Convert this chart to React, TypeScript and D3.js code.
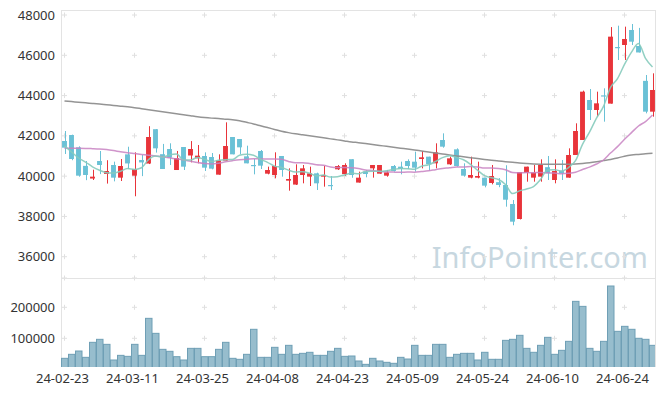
import React from 'react';
import * as d3 from 'd3';

const dates = [
  '24-02-23','24-02-26','24-02-27','24-02-28','24-02-29','24-03-04','24-03-05','24-03-06','24-03-07','24-03-08',
  '24-03-11','24-03-12','24-03-13','24-03-14','24-03-15','24-03-18','24-03-19','24-03-20','24-03-21','24-03-22',
  '24-03-25','24-03-26','24-03-27','24-03-28','24-03-29','24-04-01','24-04-02','24-04-03','24-04-04','24-04-05',
  '24-04-08','24-04-09','24-04-11','24-04-12','24-04-15','24-04-16','24-04-17','24-04-18','24-04-19','24-04-22',
  '24-04-23','24-04-24','24-04-25','24-04-26','24-04-29','24-04-30','24-05-02','24-05-03','24-05-07','24-05-08',
  '24-05-09','24-05-10','24-05-13','24-05-14','24-05-16','24-05-17','24-05-20','24-05-21','24-05-22','24-05-23',
  '24-05-24','24-05-27','24-05-28','24-05-29','24-05-30','24-05-31','24-06-03','24-06-04','24-06-05','24-06-07',
  '24-06-10','24-06-11','24-06-12','24-06-13','24-06-14','24-06-17','24-06-18','24-06-19','24-06-20','24-06-21',
  '24-06-24','24-06-25','24-06-26','24-06-27','24-06-28'
];

const opens = [
  41744,42042,41430,40510,39880,40751,40110,40553,39924,41082,
  40023,40801,40625,42330,41090,41347,40304,41446,41025,40884,
  40999,40950,40073,40768,41943,41843,40983,40553,41248,40122,
  40056,41000,39775,39580,40056,39974,40139,39974,39560,40338,
  40100,40840,39680,40222,40387,40122,40023,40503,40470,40751,
  40718,40851,40967,40636,41794,40586,41331,40354,39924,39924,
  39924,39660,39700,39560,38616,37872,40172,39924,39974,40445,
  39808,40271,39924,41049,41794,43780,43284,44010,43600,46410,
  46511,47256,46461,44730,43201
];
const highs = [
  42240,42060,41480,40750,40320,41248,40790,40718,40850,41460,
  41181,41049,42480,42340,41600,41630,41250,41446,41740,41545,
  41181,41148,41082,42671,41943,41843,41512,40850,41297,40470,
  41182,41000,40387,40586,40553,40470,40172,40503,40007,40553,
  40636,40840,40222,40304,40553,40553,40304,40553,40718,40834,
  41215,41248,40967,41629,42125,40967,41380,40636,40967,40718,
  39924,40553,39900,40540,38815,40205,40470,40553,40834,41000,
  40834,40801,41380,42622,44244,44326,44194,44360,47400,47470,
  47421,47553,47360,45021,45104
];
const lows = [
  41100,40790,39973,39800,39808,40100,39630,39740,39758,40354,
  39000,40000,40600,41170,40354,40553,40304,40304,40685,40635,
  40255,40337,40073,40768,41082,41082,40635,40089,40354,40089,
  39891,39974,39278,39560,39643,39510,39312,39477,39311,40305,
  40007,39920,39680,39940,39924,40122,39973,40222,40089,40354,
  40222,40387,40271,40387,41413,40553,40470,39974,39891,39891,
  39444,39593,39450,38484,37560,37850,39725,39725,39725,39808,
  39643,39808,39924,41049,41794,42787,42952,42704,43600,45766,
  45766,46511,46140,43118,42952
];
const closes = [
  41413,40851,40023,40057,39974,40553,40255,39924,40503,40630,
  40354,40680,41943,41380,40354,40917,40900,40470,41347,41016,
  40420,40371,40784,41496,41082,41430,40635,40530,40520,40304,
  40503,40305,39858,40056,40387,40139,39643,40056,39530,40503,
  40553,40056,39924,40106,40553,40553,40188,40255,40354,40503,
  40420,40934,40602,41182,41463,40884,40503,40023,40056,40007,
  39527,40007,39560,38830,37739,40205,40470,40172,40553,40139,
  40255,40139,41049,42241,44194,43284,43614,43980,46925,46395,
  46809,46676,46140,43201,44277
];
const volumes = [
  35400,48300,59000,38600,87000,96700,80500,30000,45000,41800,
  80500,45000,164400,116000,64400,58000,40700,30000,67600,67600,
  40700,40700,64400,87000,35400,32200,48300,129000,38600,38600,
  70900,48300,77300,48300,51500,54800,45000,45000,58000,67600,
  41800,42900,26800,16000,35400,26800,22500,19300,38600,33200,
  77300,45000,45000,80500,80500,38600,48300,51500,51500,30000,
  54800,32200,32200,93400,96700,109600,67600,54800,77300,103100,
  48300,61200,90200,219200,203000,67600,58000,90200,268700,122500,
  138600,129000,100000,96700,77300
];

const ma5Lead = [41500, 41200, 40900, 40700];
const ma20Lead = [
  41380,41380,41380,41375,41365,41350,41320,41270,41210,41160,
  41120,41080,41040,41000,40960,40910,40860,40800,40740
];
const maLong = [
  43730,43700,43670,43640,43610,43580,43545,43510,43475,43440,
  43400,43350,43300,43250,43200,43150,43100,43050,43000,42950,
  42910,42880,42860,42830,42800,42750,42670,42590,42500,42410,
  42320,42230,42160,42100,42050,42000,41950,41900,41850,41800,
  41750,41700,41660,41615,41570,41525,41480,41435,41390,41345,
  41300,41250,41200,41150,41100,41050,41005,40960,40915,40870,
  40830,40790,40755,40720,40685,40650,40625,40605,40595,40590,
  40587,40585,40587,40600,40625,40660,40710,40770,40830,40900,
  40990,41050,41080,41110,41133
];

const priceTicks = [36000, 38000, 40000, 42000, 44000, 46000, 48000];
const volumeTicks = [100000, 200000];
const xTickIdx = [0, 10, 20, 30, 40, 50, 60, 70, 80];

const W = 665, H = 396;
const L = 61, R = 655, T = 10, SEP = 278, B = 367;
const UP = '#e8343a', DOWN = '#6ac1d6';
const FONT = '"Noto Sans", sans-serif';

function movingAvg(vals: number[], n: number, lead: number[]) {
  return vals.map((_, i) => (i < n - 1 ? lead[i] : (d3.mean(vals.slice(i - n + 1, i + 1)) as number)));
}

export default function App() {
  const idx = d3.range(dates.length);
  const x = d3.scaleBand<number>().domain(idx).range([61, 656]).paddingInner(0.3).paddingOuter(0.15);
  const bw = x.bandwidth();
  const cx = (i: number) => (x(i) as number) + bw / 2;
  const y = d3.scaleLinear().domain([36000, 48000]).range([256.7, 15]);
  const yv = d3.scaleLinear().domain([0, 300000]).range([369.3, 276.3]);

  const ma5 = movingAvg(closes, 5, ma5Lead);
  const ma20 = movingAvg(closes, 20, ma20Lead);

  const line = (vals: number[]) =>
    d3.line<number>().x((_, i) => cx(i)).y((v) => y(v)).curve(d3.curveMonotoneX)(vals) || '';

  const crossYs = [...priceTicks.map((t) => y(t)), SEP, ...volumeTicks.map((t) => yv(t))];

  return (
    <svg width={W} height={H} style={{ position: 'absolute', left: 0, top: 0, background: '#fff' }}>
      <defs>
        <clipPath id="pclip"><rect x={L} y={T} width={R - L} height={SEP - T} /></clipPath>
        <clipPath id="vclip"><rect x={L} y={SEP} width={R - L} height={B - SEP} /></clipPath>
      </defs>
      <rect x={0} y={0} width={W} height={H} fill="#fff" />
      {/* watermark */}
      <text x={648} y={268} textAnchor="end" fontFamily={FONT} fontSize={29} fill="#c7d7e0">InfoPointer.com</text>

      {/* grid crosses */}
      <g stroke="#e0e0e0" strokeWidth={1}>
        {xTickIdx.map((i) =>
          crossYs.map((yy, k) => (
            <g key={`${i}-${k}`}>
              <line x1={cx(i) - 2.5} x2={cx(i) + 2.5} y1={yy} y2={yy} />
              <line x1={cx(i)} x2={cx(i)} y1={yy - 2.5} y2={yy + 2.5} />
            </g>
          ))
        )}
      </g>

      {/* frame */}
      <g stroke="#e3e3e3" strokeWidth={1} fill="none">
        <line x1={L} x2={R} y1={T + 0.5} y2={T + 0.5} />
        <line x1={L} x2={R} y1={SEP + 0.5} y2={SEP + 0.5} />
        <line x1={L + 0.5} x2={L + 0.5} y1={T} y2={B} />
        <line x1={R + 0.5} x2={R + 0.5} y1={T} y2={B} />
      </g>

      {/* candles */}
      <g clipPath="url(#pclip)">
        {idx.map((i) => {
          const up = closes[i] >= opens[i];
          const c = up ? UP : DOWN;
          const top = y(Math.max(opens[i], closes[i]));
          const bot = y(Math.min(opens[i], closes[i]));
          return (
            <g key={i}>
              <line x1={Math.round(cx(i)) + 0.5} x2={Math.round(cx(i)) + 0.5} y1={y(highs[i])} y2={y(lows[i])} stroke={c} strokeWidth={1} />
              <rect x={cx(i) - bw / 2} y={top} width={bw} height={Math.max(1.2, bot - top)} fill={c} />
            </g>
          );
        })}
        <path d={line(maLong)} fill="none" stroke="#8e8e8e" strokeWidth={1.5} strokeOpacity={0.95} />
        <path d={line(ma20)} fill="none" stroke="#c882c2" strokeWidth={1.5} strokeOpacity={0.85} />
        <path d={line(ma5)} fill="none" stroke="#86cbbd" strokeWidth={1.5} strokeOpacity={0.9} />
      </g>

      {/* volume */}
      <g clipPath="url(#vclip)">
        {idx.map((i) => (
          <rect key={i} x={cx(i) - 3} y={yv(volumes[i])} width={6.5} height={B + 5 - yv(volumes[i])}
            fill="#97bdcd" stroke="#6f9fb5" strokeWidth={1} />
        ))}
      </g>

      {/* y labels */}
      <g fontFamily={FONT} fontSize={13} fill="#333" textAnchor="end">
        {priceTicks.map((t) => (
          <text key={t} x={55} y={y(t)} dy="0.35em">{t}</text>
        ))}
        {volumeTicks.map((t) => (
          <text key={t} x={55} y={yv(t)} dy="0.35em">{t}</text>
        ))}
      </g>

      {/* x labels */}
      <g fontFamily={FONT} fontSize={13} fill="#333" textAnchor="middle">
        {xTickIdx.map((i) => (
          <text key={i} x={cx(i) - 2} y={383}>{dates[i]}</text>
        ))}
      </g>
    </svg>
  );
}
